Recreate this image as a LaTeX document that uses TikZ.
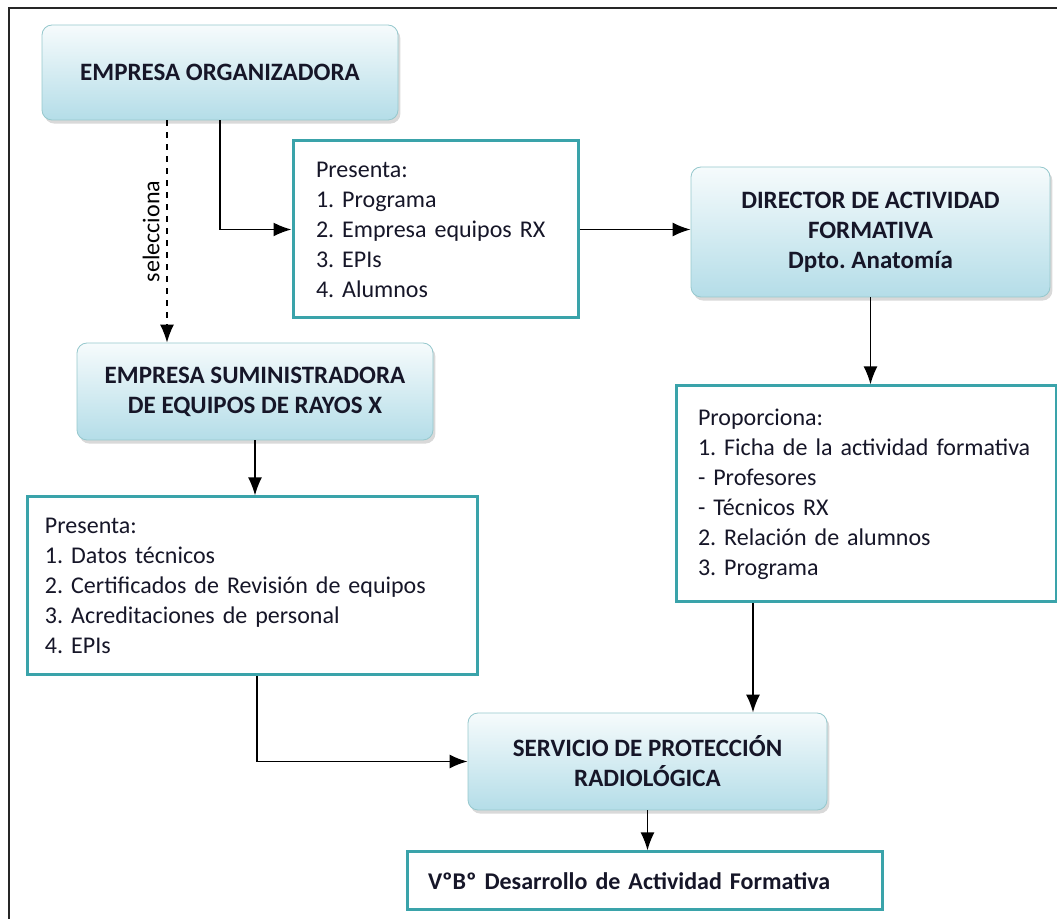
\documentclass[tikz,border=0pt]{standalone}
\usepackage{fontspec}
\setmainfont{Carlito}
\usepackage{xcolor}
\usetikzlibrary{arrows.meta, positioning, calc, shadows}

\definecolor{frameteal}{RGB}{58,163,170}
\definecolor{boxtop}{RGB}{246,251,252}
\definecolor{boxbottom}{RGB}{180,221,232}
\definecolor{boxedge}{RGB}{150,200,205}
\definecolor{inktext}{RGB}{22,22,40}

\begin{document}
\frenchspacing
\begin{tikzpicture}[
  x=0.5pt, y=-0.5pt,
  font=\fontsize{12}{15}\selectfont, text=inktext,
  actor/.style={rectangle, rounded corners=5pt, draw=boxedge, line width=0.4pt,
    top color=boxtop, bottom color=boxbottom, align=center, font=\fontsize{12.5}{15}\selectfont\bfseries,
    drop shadow={shadow xshift=1.2pt, shadow yshift=-1.8pt, opacity=0.3, fill=gray}},
  listbox/.style={rectangle, draw=frameteal, line width=1.5pt, fill=white, align=left},
  arrow/.style={-{Latex[length=9pt, width=7pt]}, line width=0.9pt, black}
]
\useasboundingbox (0,0) rectangle (1057,919);

% outer frame
\draw[line width=1.2pt, black!85] (9,919) -- (9,8) -- (1057,8);

% actors
\node[actor, minimum width=178pt, minimum height=47.5pt] (org) at (220,72.5) {EMPRESA ORGANIZADORA};
\node[actor, minimum width=179.5pt, minimum height=65pt] (dir) at (870.5,232)
  {DIRECTOR DE ACTIVIDAD\\FORMATIVA\\Dpto. Anatomía};
\node[actor, minimum width=178pt, minimum height=48.5pt] (sumi) at (255,391.5)
  {EMPRESA SUMINISTRADORA\\DE EQUIPOS DE RAYOS X};
\node[actor, minimum width=179.5pt, minimum height=48.5pt] (serv) at (647.5,761.5)
  {SERVICIO DE PROTECCIÓN\\RADIOLÓGICA};

% lists
\node[listbox, minimum width=142.5pt, minimum height=88.5pt, inner xsep=11.5pt, text width=119.5pt] (pres1) at (435.5,229.5)
  {Presenta:\\1. Programa\\2. Empresa equipos RX\\3. EPIs\\4. Alumnos};
\node[listbox, minimum width=190pt, minimum height=108pt, inner xsep=11pt, text width=168pt] (prop) at (866,494)
  {Proporciona:\\1. Ficha de la actividad formativa\\- Profesores\\- Técnicos RX\\2. Relación de alumnos\\3. Programa\\[4pt]};
\node[listbox, minimum width=225pt, minimum height=89pt, inner xsep=9pt, text width=207pt] (pres2) at (252,586)
  {Presenta:\\1. Datos técnicos\\2. Certificados de Revisión de equipos\\3. Acreditaciones de personal\\4. EPIs};
\node[listbox, minimum width=237.5pt, minimum height=29pt, inner xsep=10.5pt, text width=216.5pt, font=\fontsize{12}{15}\selectfont\bfseries] (vobo) at (644.5,881)
  {VºBº Desarrollo de\ Actividad Formativa};

% connectors
\coordinate (selx) at ([xshift=-26.5pt]org.south);
\draw[arrow, dashed, line width=0.7pt] (selx) -- node[midway, rotate=90, anchor=south, font=\fontsize{12}{14}\selectfont]{selecciona} (selx |- sumi.north);
\draw[arrow] (org.south) |- (pres1.west);
\draw[arrow] (pres1.east) -- (pres1.east -| dir.west);
\draw[arrow] (dir.south) -- (dir.south |- prop.north);
\draw[arrow] (sumi.south) -- (sumi.south |- pres2.north);
\draw[arrow] ([xshift=2.5pt]pres2.south) |- (serv.west);
\coordinate (propout) at ([xshift=-56.5pt]prop.south);
\draw[arrow] (propout) -- (propout |- serv.north);
\draw[arrow] (serv.south) -- (serv.south |- vobo.north);

\end{tikzpicture}
\end{document}
